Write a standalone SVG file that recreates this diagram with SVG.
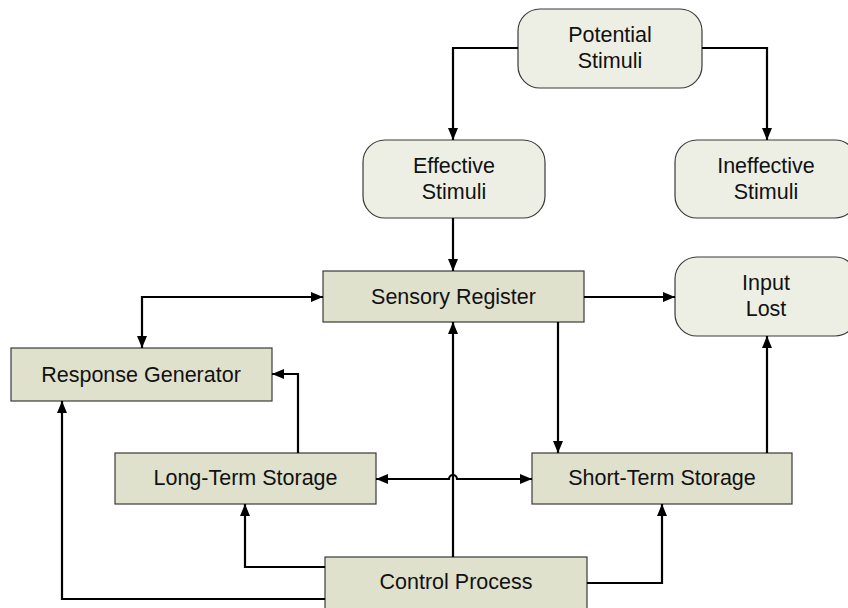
<svg xmlns="http://www.w3.org/2000/svg" width="848" height="608" viewBox="0 0 848 608">
<defs>
<marker id="arr" viewBox="0 0 12 10" refX="12" refY="5" markerWidth="12" markerHeight="10" markerUnits="userSpaceOnUse" orient="auto-start-reverse">
<path d="M0,0 L12,5 L0,10 Z" fill="#000"/>
</marker>
</defs>
<style>
.rect{fill:#dfe1cd;stroke:#3a3a3a;stroke-width:1.2}
.round{fill:#eeefe4;stroke:#3a3a3a;stroke-width:1.2}
.t{font-family:"Liberation Sans",Arial,sans-serif;font-size:21.5px;fill:#111;text-anchor:middle}
.c{fill:none;stroke:#000;stroke-width:2.2}
</style>
<rect width="848" height="608" fill="#fff"/>
<g id="potential-stimuli">
<rect class="round" x="518" y="9" width="184" height="79" rx="22"/>
<text class="t" x="610" y="42">Potential</text>
<text class="t" x="610" y="68">Stimuli</text>
</g>
<g id="effective-stimuli">
<rect class="round" x="363" y="140" width="182" height="78" rx="22"/>
<text class="t" x="454" y="173">Effective</text>
<text class="t" x="454" y="199">Stimuli</text>
</g>
<g id="ineffective-stimuli">
<rect class="round" x="675" y="140" width="182" height="78" rx="22"/>
<text class="t" x="766" y="173">Ineffective</text>
<text class="t" x="766" y="199">Stimuli</text>
</g>
<g id="sensory-register">
<rect class="rect" x="323" y="271" width="261" height="51"/>
<text class="t" x="453.5" y="304">Sensory Register</text>
</g>
<g id="input-lost">
<rect class="round" x="675" y="257" width="182" height="79" rx="22"/>
<text class="t" x="766" y="290">Input</text>
<text class="t" x="766" y="316">Lost</text>
</g>
<g id="response-generator">
<rect class="rect" x="11" y="348" width="261" height="53"/>
<text class="t" x="141" y="382">Response Generator</text>
</g>
<g id="long-term-storage">
<rect class="rect" x="115" y="453" width="261" height="51"/>
<text class="t" x="245.5" y="485">Long-Term Storage</text>
</g>
<g id="short-term-storage">
<rect class="rect" x="532" y="453" width="260" height="51"/>
<text class="t" x="662" y="485">Short-Term Storage</text>
</g>
<g id="control-process">
<rect class="rect" x="325" y="557" width="262" height="53"/>
<text class="t" x="456" y="589">Control Process</text>
</g>
<g id="connectors">
<path class="c" d="M518,48 H453 V140" marker-end="url(#arr)"/>
<path class="c" d="M702,48 H767 V140" marker-end="url(#arr)"/>
<path class="c" d="M453,218 V271" marker-end="url(#arr)"/>
<path class="c" d="M323,297 H142 V348" marker-start="url(#arr)" marker-end="url(#arr)"/>
<path class="c" d="M584,297 H675" marker-end="url(#arr)"/>
<path class="c" d="M558,322 V453" marker-end="url(#arr)"/>
<path class="c" d="M767,453 V336" marker-end="url(#arr)"/>
<path class="c" d="M298,453 V374 H272" marker-end="url(#arr)"/>
<path class="c" d="M376,479 H449 A4,4 0 0 1 457,479 H532" marker-start="url(#arr)" marker-end="url(#arr)"/>
<path class="c" d="M453,557 V322" marker-end="url(#arr)"/>
<path class="c" d="M325,567 H245 V504" marker-end="url(#arr)"/>
<path class="c" d="M325,599 H62 V401" marker-end="url(#arr)"/>
<path class="c" d="M587,583 H662 V504" marker-end="url(#arr)"/>
</g>
</svg>
